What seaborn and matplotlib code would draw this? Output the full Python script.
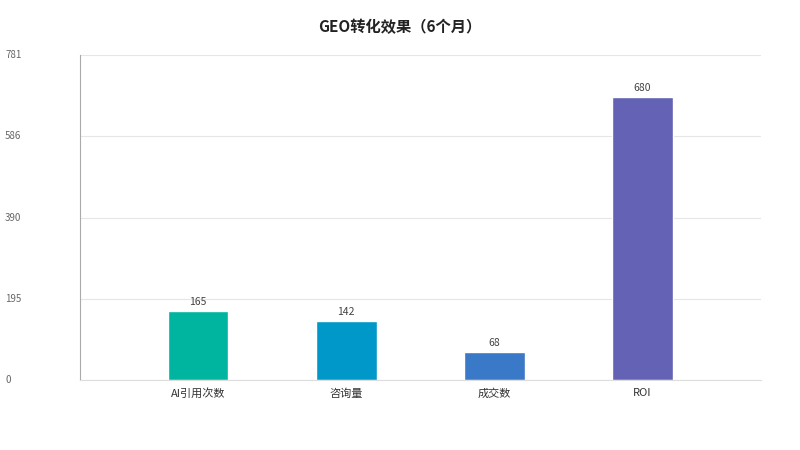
import matplotlib
matplotlib.use("Agg")
import matplotlib.pyplot as plt
import matplotlib.transforms as mtransforms
import seaborn as sns
import pandas as pd

categories = ["AI引用次数", "咨询量", "成交数", "ROI"]
values = [165, 142, 68, 680]
colors = ["#00B5A0", "#0098C8", "#3A78C8", "#6362B5"]
yticks = [0, 195, 390, 586, 781]

sns.set_theme(style="white")
plt.rcParams["font.family"] = ["Noto Sans CJK SC", "DejaVu Sans"]

df = pd.DataFrame({"cat": categories, "val": values})

fig = plt.figure(figsize=(8, 4.5), dpi=100)
ax = fig.add_axes([0.1, 1 - 380 / 450, 681 / 800, 325 / 450])

sns.barplot(data=df, x="cat", y="val", hue="cat", palette=colors,
            width=0.41, legend=False, ax=ax, saturation=1)

ax.set_xlim(-0.797, 3.80)
ax.set_ylim(0, 781)
ax.set_xlabel("")
ax.set_ylabel("")
ax.set_yticks(yticks)
ax.set_yticklabels([])
ax.tick_params(axis="y", length=0)
ax.tick_params(axis="x", length=0, labelsize=8, colors="#333333", pad=6)
ax.grid(axis="y", color="#e6e6e6", linewidth=0.8)
ax.set_axisbelow(True)

for s in ["top", "right"]:
    ax.spines[s].set_visible(False)
ax.spines["left"].set_color("#aaaaaa")
ax.spines["left"].set_linewidth(0.8)
ax.spines["bottom"].set_color("#dddddd")
ax.spines["bottom"].set_linewidth(0.8)

trans = mtransforms.blended_transform_factory(fig.transFigure, ax.transData)
for t in yticks:
    ax.text(5 / 800, t, str(t), transform=trans, ha="left", va="center",
            fontsize=7, color="#666666")

for i, v in enumerate(values):
    ax.annotate(str(v), (i, v), xytext=(0, 3), textcoords="offset points",
                ha="center", va="bottom", fontsize=7.5, color="#444444")

fig.text(0.5, 1 - 27 / 450, "GEO转化效果（6个月）", ha="center", va="center",
         fontsize=11, fontweight="bold", color="#222222")

fig.savefig("out.png", dpi=100)
